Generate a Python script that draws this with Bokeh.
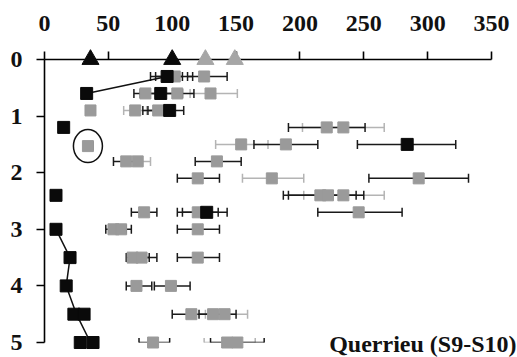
import math
from bokeh.plotting import figure
from bokeh.models import (Range1d, ColumnDataSource, Whisker, TeeHead,
                          FixedTicker)
from bokeh.core.properties import value
from bokeh.embed import file_html
from bokeh.resources import INLINE

NaN = float("nan")

# axis ticks
x_ticks = [0, 50, 100, 150, 200, 250, 300, 350]
y_ticks = [0, 1, 2, 3, 4, 5]

# triangles on the surface (depth 0)
tri_black_x = [36, 100]
tri_grey_x = [126, 149]
tri_y = [0, 0]

# black squares (x, depth) and their error bars (NaN = none)
black_x = [96, 33, 91, 98, 15, 284, 9, 127, 9, 20, 17, 23, 31, 28, 38]
black_y = [0.3, 0.6, 0.6, 0.9, 1.2, 1.5, 2.4, 2.7, 3.0, 3.5, 4.0, 4.5, 4.5, 5.0, 5.0]
black_lo = [83, NaN, 75, 81, NaN, 245, NaN, 108, NaN, NaN, NaN, NaN, NaN, NaN, NaN]
black_hi = [108, NaN, 108, 109, NaN, 322, NaN, 143, NaN, NaN, NaN, NaN, NaN, NaN, NaN]

# connecting lines between black squares
line1_x = [96, 33]
line1_y = [0.3, 0.6]
line2_x = [9, 20, 17, 25, 36]
line2_y = [3.0, 3.5, 4.0, 4.5, 5.0]

# grey squares with error bars; bar style "k" = dark, "l" = light
grey_x = [102, 125,
          79, 104, 130,
          36, 71, 89,
          221, 234,
          34, 154, 189,
          64, 73, 135,
          120, 178, 293,
          216, 222, 234,
          78, 120, 246,
          54, 60, 120,
          69, 76, 120,
          72, 99,
          115, 132, 141,
          85, 143, 151]
grey_y = [0.3, 0.3,
          0.6, 0.6, 0.6,
          0.9, 0.9, 0.9,
          1.2, 1.2,
          1.53, 1.5, 1.5,
          1.8, 1.8, 1.8,
          2.1, 2.1, 2.1,
          2.4, 2.4, 2.4,
          2.7, 2.7, 2.7,
          3.0, 3.0, 3.0,
          3.5, 3.5, 3.5,
          4.0, 4.0,
          4.5, 4.5, 4.5,
          5.0, 5.0, 5.0]
grey_lo = [87, 112,
           70, 92, 114,
           33, 62, 77,
           191, 202,
           31, 134, 164,
           54, 62, 118,
           104, 155, 254,
           187, 191, 203,
           68, 104, 214,
           48, 52, 104,
           64, 66, 104,
           64, 86,
           100, 121, 126,
           74, 130, 125]
grey_hi = [116, 143,
           88, 117, 151,
           39, 80, 100,
           251, 266,
           38, 175, 214,
           74, 83, 154,
           137, 203, 332,
           244, 250, 266,
           88, 136, 280,
           64, 68, 137,
           82, 88, 137,
           84, 114,
           130, 150, 159,
           98, 172, 165]
grey_bar = ["k", "k",
            "k", "k", "l",
            "l", "l", "k",
            "k", "l",
            "k", "l", "k",
            "k", "l", "k",
            "k", "l", "k",
            "k", "k", "l",
            "k", "k", "k",
            "k", "k", "k",
            "k", "k", "k",
            "k", "k",
            "k", "k", "l",
            "k", "k", "l"]

# circled sample
circle_x = [34]
circle_y = [1.53]

title_text = "Querrieu (S9-S10)"

GREY = "#9a9a9a"
LIGHT = "#b4b4b4"
FONT = "'Liberation Serif'"
LVL = "annotation"

p = figure(x_range=Range1d(0, 350), y_range=Range1d(5, 0),
           x_axis_location="above", frame_width=447, frame_height=283,
           min_border_left=44, min_border_top=59, min_border_right=26,
           min_border_bottom=15, output_backend="svg", toolbar_location=None)
p.grid.visible = False
p.outline_line_color = None
p.background_fill_color = "white"
p.border_fill_color = "white"

for ax, ticks, standoff in ((p.xaxis[0], x_ticks, 21), (p.yaxis[0], y_ticks, 14)):
    ax.ticker = FixedTicker(ticks=ticks)
    ax.major_tick_out = 8
    ax.major_tick_in = 0
    ax.minor_tick_out = 0
    ax.minor_tick_in = 0
    ax.axis_line_width = 1.6
    ax.axis_line_color = "black"
    ax.major_tick_line_width = 1.6
    ax.major_tick_line_color = "black"
    ax.major_label_text_font = FONT
    ax.major_label_text_font_style = "bold"
    ax.major_label_text_font_size = "24px"
    ax.major_label_text_color = "#111111"
    ax.major_label_standoff = standoff

# error bars
def whisker(ys, los, his, color):
    src = ColumnDataSource(dict(y=ys, lo=los, hi=his))
    w = Whisker(source=src, base="y", lower="lo", upper="hi", dimension="width",
                line_color=color, line_width=1.5,
                upper_head=TeeHead(size=9, line_color=color, line_width=1.5),
                lower_head=TeeHead(size=9, line_color=color, line_width=1.5))
    p.add_layout(w)

k_idx = [i for i, b in enumerate(grey_bar) if b == "k"]
l_idx = [i for i, b in enumerate(grey_bar) if b == "l"]
whisker([grey_y[i] for i in l_idx], [grey_lo[i] for i in l_idx],
        [grey_hi[i] for i in l_idx], LIGHT)
whisker([grey_y[i] for i in k_idx], [grey_lo[i] for i in k_idx],
        [grey_hi[i] for i in k_idx], "#1a1a1a")
bi = [i for i in range(len(black_x)) if not math.isnan(black_lo[i])]
whisker([black_y[i] for i in bi], [black_lo[i] for i in bi],
        [black_hi[i] for i in bi], "#1a1a1a")

# lines
p.line(line1_x, line1_y, line_color="#111111", line_width=1.5, level=LVL)
p.line(line2_x, line2_y, line_color="#111111", line_width=1.5, level=LVL)

# markers
p.scatter(grey_x, grey_y, marker="square", size=11, fill_color=GREY,
          line_color=GREY, level=LVL)
p.scatter(black_x, black_y, marker="square", size=12, fill_color="#0a0a0a",
          line_color="#0a0a0a", level=LVL)
p.scatter(tri_grey_x, tri_y, marker="triangle", size=17, fill_color="#a6a6a6",
          line_color="#a6a6a6", level=LVL)
p.scatter(tri_black_x, tri_y, marker="triangle", size=17, fill_color="#0a0a0a",
          line_color="#0a0a0a", level=LVL)

p.ellipse(circle_x, circle_y, width=29, height=33, width_units="screen",
          height_units="screen", fill_color=None, line_color="#111111",
          line_width=1.5, level=LVL)

# site name, anchored at the bottom-right of the data area
p.text(x=[350], y=[5], text=[title_text], text_align="right",
       text_baseline="alphabetic", x_offset=25, y_offset=1,
       text_font=value(FONT), text_font_style="bold",
       text_font_size="24px", text_color="#111111", level=LVL)

open("out.html", "w").write(file_html(p, INLINE))
